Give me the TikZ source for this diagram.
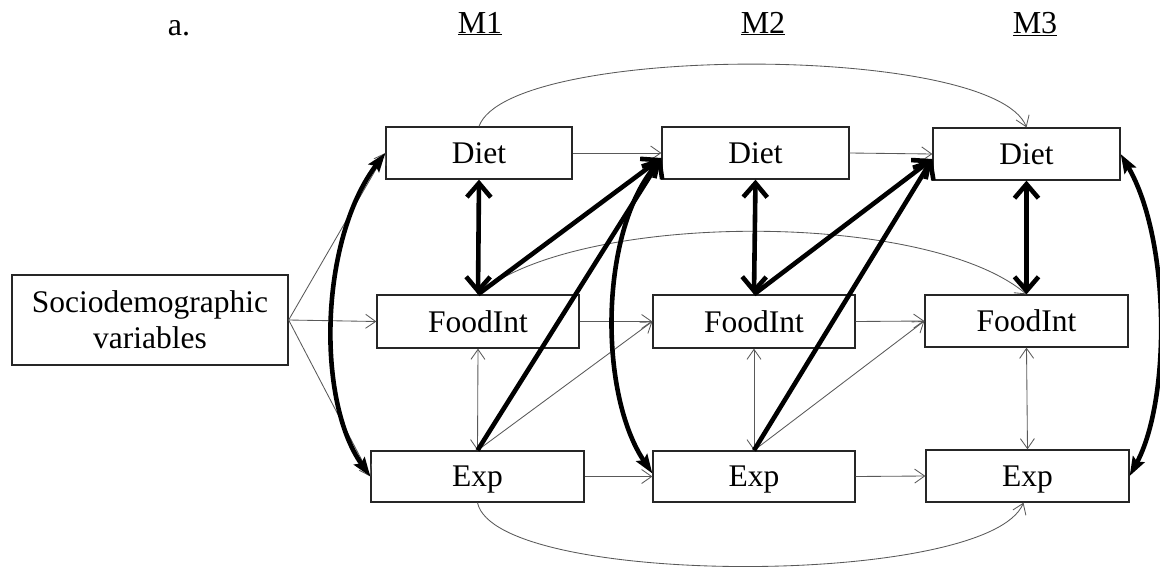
\documentclass[tikz,border=0pt]{standalone}
\usepackage{fontspec}
\setmainfont{Liberation Serif}
\usetikzlibrary{arrows.meta,calc}
\begin{document}
\begin{tikzpicture}[x=1pt,y=-1pt,
  tA/.tip={Straight Barb[length=10pt,width=14pt]},
  tB/.tip={Straight Barb[length=14pt,width=24pt]},
  tC/.tip={Stealth[length=19pt,width=13pt,inset=3pt]},
  box/.style={draw=black!85, line width=1.3pt, fill=white, inner sep=0pt,
    font=\fontsize{31.5}{36}\selectfont, text depth=0pt},
  lite/.style={draw=black!65, line width=0.85pt, -tA},
  lite2/.style={draw=black!65, line width=0.85pt, tA-tA},
  heavy/.style={line width=4.6pt, -tB},
  heavy2/.style={line width=4.6pt, tB-tB},
  cov/.style={line width=4.6pt, tC-tC},
  title/.style={font=\fontsize{32}{36}\selectfont, anchor=base}
]
\useasboundingbox (0,0) rectangle (1160,568);

% column headings
\node[title] (ta) at (179,35) {a.};
\node[title] (t1) at (480,33) {\underline{M1}};
\node[title] (t2) at (763,33) {\underline{M2}};
\node[title] (t3) at (1035,33) {\underline{M3}};

% measurement boxes
\node[box, minimum width=276pt, minimum height=90pt, align=center, text depth=] (s) at (150,320) {Sociodemographic\\variables};

\node[box, minimum width=186pt, minimum height=52pt] (d1) at (479,153) {Diet};
\node[box, minimum width=187pt, minimum height=52pt] (d2) at (755.5,153) {Diet};
\node[box, minimum width=187pt, minimum height=52pt] (d3) at (1026.5,154) {Diet};

\node[box, minimum width=202pt, minimum height=53pt] (f1) at (478,321.5) {FoodInt};
\node[box, minimum width=202pt, minimum height=53pt] (f2) at (754,321.5) {FoodInt};
\node[box, minimum width=203pt, minimum height=52pt] (f3) at (1026.5,321) {FoodInt};

\node[box, minimum width=213pt, minimum height=51pt] (e1) at (477.5,476.5) {Exp};
\node[box, minimum width=202pt, minimum height=51pt] (e2) at (754,476.5) {Exp};
\node[box, minimum width=203pt, minimum height=52pt] (e3) at (1027.5,476) {Exp};

% covariate paths
\draw[lite] (s.east) -- (d1.west);
\draw[lite] (s.east) -- (f1.west);
\draw[lite] (s.east) -- (e1.west);

% autoregressive paths
\draw[lite] (d1.east) -- (d2.west);
\draw[lite] (d2.east) -- (d3.west);
\draw[lite] (f1.east) -- (f2.west);
\draw[lite] (f2.east) -- (f3.west);
\draw[lite] (e1.east) -- (e2.west);
\draw[lite] (e2.east) -- (e3.west);

% cross-lagged Exp -> FoodInt
\draw[lite] (e1.north) -- (f2.west);
\draw[lite] (e2.north) -- (f3.west);

% FoodInt <-> Exp within wave
\draw[lite2] (f1.south) -- (e1.north);
\draw[lite2] (f2.south) -- (e2.north);
\draw[lite2] (f3.south) -- (e3.north);

% lag-2 paths
\draw[lite] (d1.north) .. controls +(30,-83) and +(-33,-84) .. (d3.north);
\draw[lite] (f1.north) .. controls +(100,-84) and +(-99,-84) .. (f3.north);
\draw[lite] (e1.south) .. controls +(18,85) and +(-35,85) .. ([xshift=-4pt]e3.south);

% Diet <-> FoodInt within wave
\draw[heavy2] (d1.south) -- (f1.north);
\draw[heavy2] (d2.south) -- (f2.north);
\draw[heavy2] (d3.south) -- (f3.north);

% cross-lagged paths into Diet
\draw[heavy] (f1.north) -- ([yshift=-5pt]d2.west);
\draw[heavy] (e1.north) -- ([yshift=-5pt]d2.west);
\draw[heavy] (f2.north) -- ([yshift=-5pt]d3.west);
\draw[heavy] (e2.north) -- ([yshift=-5pt]d3.west);

% Diet <-> Exp covariances
\draw[cov] (d1.west) .. controls +(-66,87) and +(-54,-76) .. (e1.west);
\draw[cov] ([yshift=-5pt]d2.west) .. controls +(-62,80) and +(-53,-79) .. ([yshift=3pt]e2.west);
\draw[cov] (d3.east) .. controls +(50,86) and +(41,-76) .. (e3.east);
\end{tikzpicture}
\end{document}
